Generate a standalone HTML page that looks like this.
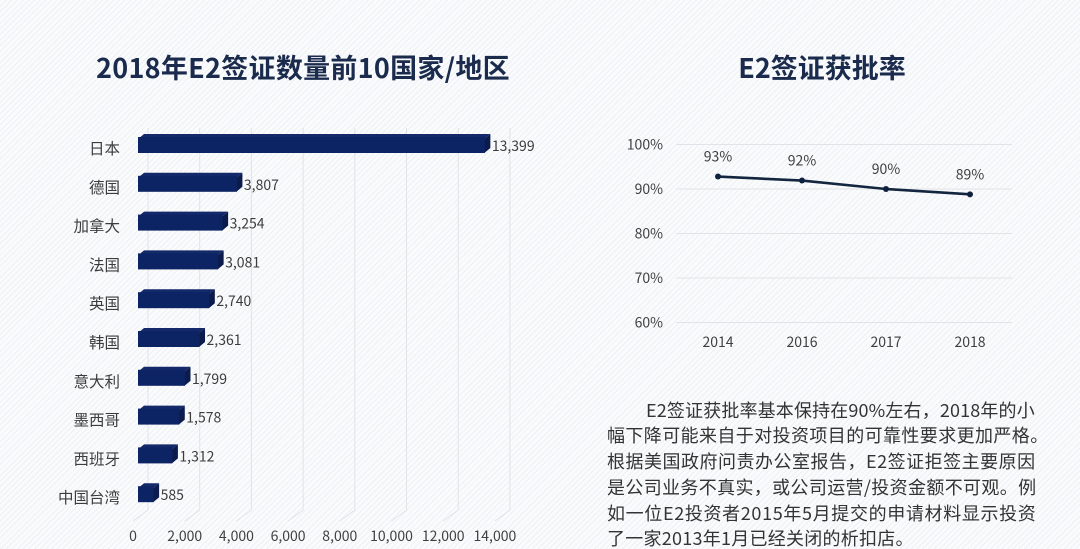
<!DOCTYPE html>
<html lang="zh">
<head>
<meta charset="utf-8">
<style>
html,body{margin:0;padding:0;width:1080px;height:549px;overflow:hidden}
body{position:relative;background-color:#f8f9fb;
background-image:repeating-linear-gradient(135deg,rgba(215,219,226,.3) 0 1px,rgba(255,255,255,.35) 1px 4px);
font-family:"Liberation Sans","Noto Sans CJK SC",sans-serif}
svg{position:absolute;left:0;top:0}
text{font-family:"Noto Sans CJK SC","Liberation Sans",sans-serif}
.para{position:absolute;left:607px;top:397.5px;width:460px;font:18px/25.8px "Noto Sans CJK SC","Liberation Sans",sans-serif;color:#333}
.para div{white-space:nowrap;height:25.8px}
</style>
</head>
<body>
<svg id="c" width="1080" height="549" viewBox="0 0 1080 549">
<text x="303" y="78" text-anchor="middle" font-size="27" font-weight="700" letter-spacing=".28" fill="#1b2b4d">2018年E2签证数量前10国家/地区</text>
<text x="822" y="78" text-anchor="middle" font-size="27" font-weight="700" fill="#1b2b4d">E2签证获批率</text>
</svg>
<div class="para">
<div style="padding-left:39px;letter-spacing:.15px">E2签证获批率基本保持在90%左右，2018年的小</div>
<div style="letter-spacing:.4px">幅下降可能来自于对投资项目的可靠性要求更加严格。</div>
<div style="letter-spacing:.5px">根据美国政府问责办公室报告，E2签证拒签主要原因</div>
<div style="letter-spacing:.35px">是公司业务不真实，或公司运营/投资金额不可观。例</div>
<div style="letter-spacing:.65px">如一位E2投资者2015年5月提交的申请材料显示投资</div>
<div style="letter-spacing:.25px">了一家2013年1月已经关闭的析扣店。</div>
</div>
<script>
var barCategories = ["日本","德国","加拿大","法国","英国","韩国","意大利","墨西哥","西班牙","中国台湾"];
var barValues = [13399,3807,3254,3081,2740,2361,1799,1578,1312,585];
var barTicks = [0,2000,4000,6000,8000,10000,12000,14000];
var lineCategories = ["2014","2016","2017","2018"];
var lineValues = [92.8,91.9,90,88.8];
var lineLabels = ["93%","92%","90%","89%"];
var lineTicks = [100,90,80,70,60];

var NS = "http://www.w3.org/2000/svg";
var svg = document.getElementById("c");
function mk(tag, attrs, txt) {
  var e = document.createElementNS(NS, tag);
  for (var k in attrs) e.setAttribute(k, attrs[k]);
  if (txt !== undefined) e.textContent = txt;
  svg.appendChild(e);
  return e;
}
function fmt(v) { return String(v).replace(/\B(?=(\d{3})+$)/g, ","); }

/* bar chart axes */
function bx(v) { return 138 + v * 0.02585; }
function by(i) { return 134 + i * 38.8; }
var DX = 6, DY = 5, BH = 19;

barTicks.forEach(function (t) {
  var x = bx(t);
  var g = mk("polyline", {points: (x + 10) + ",128 " + (x + 10) + ",510 " + (x - 5) + ",521", fill: "none", stroke: "#e2e3e7", "stroke-width": 1});
  
  
  var l = mk("text", {x: x - 5, y: 541, "text-anchor": "middle", "font-size": 14, fill: "#404040"}, fmt(t));
  
  
});

barCategories.forEach(function (c, i) {
  var x = 138, w = bx(barValues[i]) - 138, y = by(i);
  var top = mk("polygon", {points: x + "," + (y + DY) + " " + (x + DX) + "," + y + " " + (x + w + DX) + "," + y + " " + (x + w) + "," + (y + DY), fill: "#14296a"});
  
  
  var side = mk("polygon", {points: (x + w) + "," + (y + DY) + " " + (x + w + DX) + "," + y + " " + (x + w + DX) + "," + (y + BH - DY) + " " + (x + w) + "," + (y + BH), fill: "#0b1c4c"});
  
  
  var front = mk("rect", {x: x, y: y + 3, width: w + 0.5, height: BH - 3, fill: "#0c2364"});
  
  
  var cat = mk("text", {x: 120, y: y + 20, "text-anchor": "end", "font-size": 15.5, fill: "#3c3c3c"}, c);
  
  
  var val = mk("text", {x: x + w + DX + 1.5, y: y + 17, "font-size": 14, fill: "#3c3c3c"}, fmt(barValues[i]));
  
  
});

/* line chart axes */
function lx(i) { return 718 + i * 84; }
function ly(v) { return 144.5 + (100 - v) * 4.45; }

lineTicks.forEach(function (t) {
  var y = ly(t);
  var g = mk("line", {x1: 676, x2: 1012, y1: y, y2: y, stroke: "#e2e3e6", "stroke-width": 1});
  
  
  var l = mk("text", {x: 663, y: y + 4.8, "text-anchor": "end", "font-size": 14, fill: "#404040"}, t + "%");
  
  
});
var pts = lineValues.map(function (v, i) { return lx(i) + "," + ly(v); }).join(" ");
var path = mk("polyline", {points: pts, fill: "none", stroke: "#14263f", "stroke-width": 2.6});


lineValues.forEach(function (v, i) {
  var p = mk("circle", {cx: lx(i), cy: ly(v), r: 3, fill: "#0e2240"});
  
  
  var t = mk("text", {x: lx(i), y: ly(v) - 15, "text-anchor": "middle", "font-size": 14, fill: "#404040"}, lineLabels[i]);
  
  
  var c = mk("text", {x: lx(i), y: 347, "text-anchor": "middle", "font-size": 14, fill: "#404040"}, lineCategories[i]);
  
  
});
</script>
</body>
</html>
